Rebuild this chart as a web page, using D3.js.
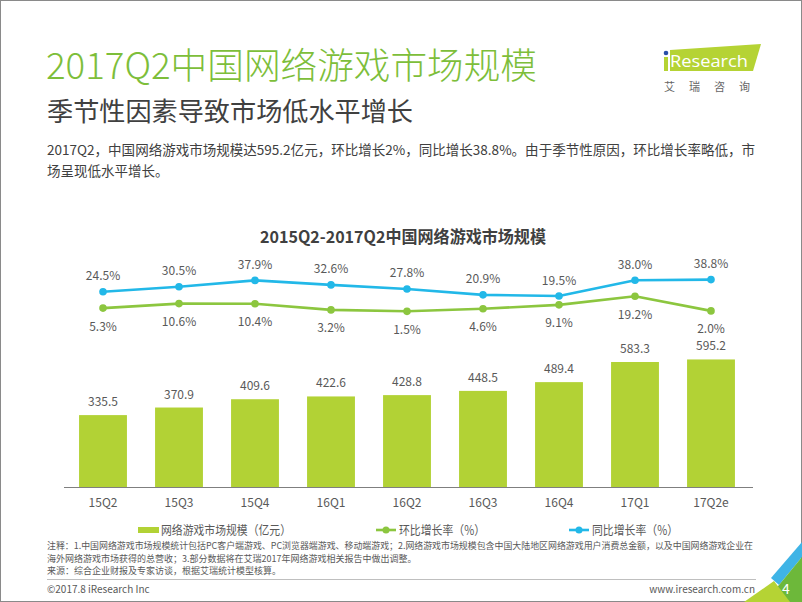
<!DOCTYPE html>
<html>
<head>
<meta charset="utf-8">
<script src="https://cdn.jsdelivr.net/npm/d3@7/dist/d3.min.js"></script>
<style>
  html, body { margin: 0; padding: 0; background: #fff; }
  svg { display: block; font-family: "Noto Sans CJK SC", "Noto Sans", sans-serif; }
</style>
</head>
<body>
<svg id="chart" width="802" height="602"></svg>
<script>
// ---- data ----
const categories = ["15Q2", "15Q3", "15Q4", "16Q1", "16Q2", "16Q3", "16Q4", "17Q1", "17Q2e"];
const marketSize = [335.5, 370.9, 409.6, 422.6, 428.8, 448.5, 489.4, 583.3, 595.2];
const qoqGrowth = [5.3, 10.6, 10.4, 3.2, 1.5, 4.6, 9.1, 19.2, 2.0];
const yoyGrowth = [24.5, 30.5, 37.9, 32.6, 27.8, 20.9, 19.5, 38.0, 38.8];
const legendLabels = ["网络游戏市场规模（亿元）", "环比增长率（%）", "同比增长率（%）"];

const title = "2017Q2中国网络游戏市场规模";
const subtitle = "季节性因素导致市场低水平增长";
const para = ["2017Q2，中国网络游戏市场规模达595.2亿元，环比增长2%，同比增长38.8%。由于季节性原因，环比增长率略低，市",
              "场呈现低水平增长。"];
const chartTitle = "2015Q2-2017Q2中国网络游戏市场规模";
const notes = ["注释：1.中国网络游戏市场规模统计包括PC客户端游戏、PC浏览器端游戏、移动端游戏；2.网络游戏市场规模包含中国大陆地区网络游戏用户消费总金额，以及中国网络游戏企业在",
               "海外网络游戏市场获得的总营收；3.部分数据将在艾瑞2017年网络游戏相关报告中做出调整。",
               "来源：综合企业财报及专家访谈，根据艾瑞统计模型核算。"];

const C = {
  titleGreen: "#7DBE3A", bar: "#B2D235", lineGreen: "#8CC63F", blue: "#22B8E8",
  text: "#595959", dark: "#404040"
};

const svg = d3.select("#chart");

// page border
svg.append("rect").attr("x", 0.5).attr("y", 0.5).attr("width", 801).attr("height", 601)
  .attr("fill", "#fff").attr("stroke", "#8a8a8a");

// headers
svg.append("text").attr("x", 46).attr("y", 79).attr("font-size", 36.5).attr("font-weight", 300)
  .attr("textLength", 491).attr("lengthAdjust", "spacingAndGlyphs")
  .attr("fill", C.titleGreen).text(title);
svg.append("text").attr("x", 47).attr("y", 121).attr("font-size", 26).attr("font-weight", 400)
  .attr("textLength", 366).attr("lengthAdjust", "spacingAndGlyphs")
  .attr("fill", C.dark).text(subtitle);
para.forEach((t, i) => {
  const el = svg.append("text").attr("x", 47).attr("y", 155 + i * 21).attr("font-size", 13.5)
    .attr("fill", C.dark).text(t);
  if (i === 0) el.attr("textLength", 708).attr("lengthAdjust", "spacingAndGlyphs");
});

// logo
const logo = svg.append("g");
logo.append("polygon").attr("points", "670,50 761,44 753,71 670,71").attr("fill", "#B5D334");
logo.append("rect").attr("x", 664).attr("y", 57).attr("width", 4).attr("height", 14).attr("fill", "#B5D334");
logo.append("circle").attr("cx", 666).attr("cy", 53).attr("r", 2.3).attr("fill", "#2A4EA8");
logo.append("text").attr("x", 670).attr("y", 67).attr("font-size", 17).attr("font-family", "Open Sans, sans-serif")
  .attr("textLength", 78).attr("lengthAdjust", "spacingAndGlyphs")
  .attr("fill", "#fff").text("Research");
logo.append("text").attr("x", 664).attr("y", 91).attr("font-size", 11).attr("letter-spacing", 14)
  .attr("fill", "#666").text("艾瑞咨询");

// chart title
svg.append("text").attr("x", 403).attr("y", 243).attr("text-anchor", "middle")
  .attr("font-size", 16.5).attr("font-weight", 700).attr("fill", C.dark)
  .attr("textLength", 286).attr("lengthAdjust", "spacingAndGlyphs").text(chartTitle);

// scales
const x = d3.scaleBand().domain(categories).range([65, 749]).paddingInner(0.37).paddingOuter(0.185);
const yBar = d3.scaleLinear().domain([0, 700]).range([487, 337]);
const yLine = d3.scaleLinear().domain([0, 40]).range([312.6, 278.6]);

// bars
svg.append("g").selectAll("rect").data(marketSize).join("rect")
  .attr("x", (d, i) => x(categories[i]))
  .attr("y", d => yBar(d))
  .attr("width", x.bandwidth())
  .attr("height", d => yBar(0) - yBar(d))
  .attr("fill", C.bar);
svg.append("g").selectAll("text").data(marketSize).join("text")
  .attr("x", (d, i) => x(categories[i]) + x.bandwidth() / 2)
  .attr("y", d => yBar(d) - 9)
  .attr("text-anchor", "middle").attr("font-size", 12).attr("fill", C.text)
  .text(d => d.toFixed(1));

// axis
const axis = svg.append("g").attr("transform", `translate(0,${yBar(0)})`)
  .call(d3.axisBottom(x).tickSize(0).tickSizeOuter(0).tickPadding(11));
axis.select(".domain").attr("stroke", "#7f7f7f").attr("stroke-width", 1.2)
  .attr("d", "M64,0.5H753");
axis.selectAll("text").attr("font-size", 12).attr("fill", C.text)
  .attr("font-family", "Noto Sans CJK SC, sans-serif");

// lines
const cx = i => x(categories[i]) + x.bandwidth() / 2;
const lineGen = d3.line().x((d, i) => cx(i)).y(d => yLine(d));
function drawSeries(data, color, above) {
  svg.append("path").datum(data).attr("d", lineGen).attr("fill", "none")
    .attr("stroke", color).attr("stroke-width", 2.6).attr("stroke-linejoin", "round");
  svg.append("g").selectAll("circle").data(data).join("circle")
    .attr("cx", (d, i) => cx(i)).attr("cy", d => yLine(d)).attr("r", 3.8).attr("fill", color);
  svg.append("g").selectAll("text").data(data).join("text")
    .attr("x", (d, i) => cx(i))
    .attr("y", d => above ? yLine(d) - 11.5 : yLine(d) + 22.5)
    .attr("text-anchor", "middle").attr("font-size", 12).attr("fill", C.text)
    .text(d => d.toFixed(1) + "%");
}
drawSeries(yoyGrowth, C.blue, true);
drawSeries(qoqGrowth, C.lineGreen, false);

// legend
const lg = svg.append("g").attr("font-size", 12.5).attr("fill", C.text);
lg.append("rect").attr("x", 138).attr("y", 527).attr("width", 21).attr("height", 6).attr("fill", C.bar);
lg.append("text").attr("x", 161).attr("y", 535).attr("textLength", 130)
  .attr("lengthAdjust", "spacingAndGlyphs").text(legendLabels[0]);
[[376, C.lineGreen, legendLabels[1]], [569, C.blue, legendLabels[2]]].forEach(([lx, col, lab]) => {
  lg.append("line").attr("x1", lx).attr("x2", lx + 20).attr("y1", 530).attr("y2", 530)
    .attr("stroke", col).attr("stroke-width", 2.6);
  lg.append("circle").attr("cx", lx + 10).attr("cy", 530).attr("r", 3.5).attr("fill", col);
  lg.append("text").attr("x", lx + 23).attr("y", 535).attr("textLength", 86)
    .attr("lengthAdjust", "spacingAndGlyphs").text(lab);
});

// notes
notes.forEach((t, i) => {
  const el = svg.append("text").attr("x", 47).attr("y", 549 + i * 12.5).attr("font-size", 9)
    .attr("fill", C.text).text(t);
  if (i === 0) el.attr("textLength", 706).attr("lengthAdjust", "spacingAndGlyphs");
});

// footer
svg.append("line").attr("x1", 47).attr("x2", 756).attr("y1", 579.5).attr("y2", 579.5)
  .attr("stroke", "#bfbfbf").attr("stroke-width", 1);
svg.append("text").attr("x", 47).attr("y", 593).attr("font-size", 10).attr("fill", C.text)
  .text("©2017.8 iResearch Inc");
svg.append("text").attr("x", 755).attr("y", 593).attr("font-size", 10).attr("fill", C.text)
  .attr("text-anchor", "end").text("www.iresearch.com.cn");

// corner decoration
svg.append("polygon").attr("points", "802,542 802,557 779,585 771,578").attr("fill", "#3FB4E6");
svg.append("polygon").attr("points", "802,557 802,602 762,602 779,585").attr("fill", "#6DB83A");
svg.append("polygon").attr("points", "744,602 774,581 790,602").attr("fill", "#B5D334");
svg.append("text").attr("x", 786).attr("y", 594).attr("text-anchor", "middle").attr("font-size", 14)
  .attr("fill", "#fff").text("4");
</script>
</body>
</html>
